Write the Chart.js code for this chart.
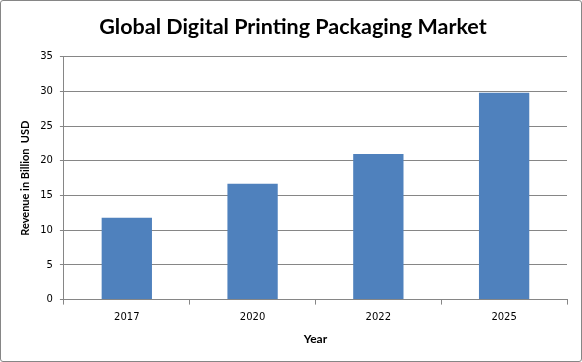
<!DOCTYPE html>
<html>
<head>
<meta charset="utf-8">
<script src="https://cdn.jsdelivr.net/npm/chart.js@4"></script>
<style>
  html, body { margin: 0; padding: 0; background: #fff; }
  #wrap { width: 580px; height: 360px; border: 1px solid #868686; border-radius: 3px; }
</style>
</head>
<body>
<div id="wrap"><canvas id="market" width="580" height="360"></canvas></div>
<script>
const years = ['2017', '2020', '2022', '2025'];
const revenue = [11.8, 16.7, 21.0, 29.8];
const yTicks = [0, 5, 10, 15, 20, 25, 30, 35];

const gridColor = '#868686';

new Chart(document.getElementById('market'), {
    type: 'bar',
    data: {
        labels: years,
        datasets: [{
            label: 'Revenue',
            data: revenue,
            backgroundColor: '#4F81BD',
            categoryPercentage: 1,
            barPercentage: 0.4
        }]
    },
    options: {
        responsive: false,
        animation: false,
        layout: { padding: { left: 18, right: 14, top: 0, bottom: 15 } },
        plugins: {
            legend: { display: false },
            tooltip: { enabled: false },
            title: {
                display: true,
                text: 'Global Digital Printing Packaging Market',
                color: '#000',
                font: { family: 'Lato', size: 21.5, weight: 'bold' },
                padding: { top: 13, bottom: 17 }
            }
        },
        scales: {
            x: {
                grid: { display: true, drawOnChartArea: false, color: gridColor, tickLength: 5 },
                border: { color: gridColor },
                ticks: { color: '#000', font: { family: 'DejaVu Sans', size: 10 }, padding: 7 },
                title: {
                    display: true, text: 'Year', color: '#000',
                    font: { family: 'Lato', size: 12, weight: 'bold' },
                    padding: { top: 1, bottom: 0 }
                }
            },
            y: {
                min: 0,
                max: 35,
                afterBuildTicks: (axis) => { axis.ticks = yTicks.map(v => ({ value: v })); },
                grid: { color: gridColor, tickLength: 4 },
                border: { color: gridColor },
                ticks: { color: '#000', font: { family: 'DejaVu Sans', size: 10 }, padding: 7 },
                title: {
                    display: true, text: 'Revenue in Billion  USD', color: '#000',
                    font: { family: 'Lato', size: 11, weight: 'bold' },
                    padding: { top: 0, bottom: 1 }
                }
            }
        }
    }
});
</script>
</body>
</html>
